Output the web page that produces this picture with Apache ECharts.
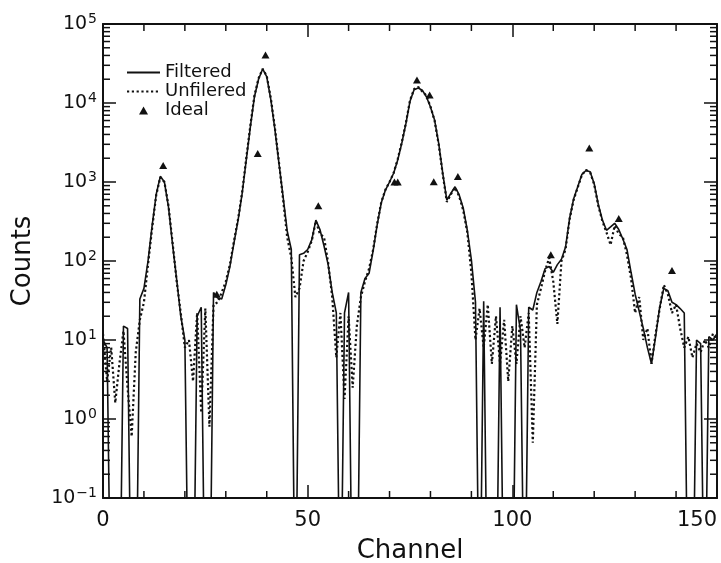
<!DOCTYPE html>
<html>
<head>
<meta charset="utf-8">
<script src="https://cdn.jsdelivr.net/npm/echarts@6/dist/echarts.min.js"></script>
<style>
  html, body { margin: 0; padding: 0; background: #fff; }
  #chart { width: 721px; height: 563px; }
</style>
</head>
<body>
<div id="chart"></div>
<script>
// Spectrum counts per channel (channel = array index, 0..150). 0 = no counts.
const filtered = [
  10, 8, 0, 0, 0, 15, 14, 0, 0, 33,
  45, 100, 280, 700, 1180, 1000, 480, 160, 58, 20,
  10, 0, 0, 20, 26, 0, 0, 40, 34, 33,
  50, 85, 170, 330, 720, 1900, 5000, 12000, 20000, 27000,
  21500, 11000, 4600, 1700, 650, 240, 140, 0, 120, 125,
  140, 185, 330, 250, 155, 90, 40, 22, 0, 22,
  40, 0, 0, 40, 60, 70, 135, 290, 550, 790,
  1000, 1290, 1900, 3100, 5500, 10500, 14700, 15500, 14500, 12000,
  8900, 6100, 3100, 1290, 590, 720, 870, 690, 470, 245,
  103, 30, 0, 31, 0, 0, 0, 26, 0, 0,
  0, 28, 13, 0, 26, 24, 40, 55, 80, 85,
  72, 90, 105, 150, 350, 620, 880, 1250, 1400, 1350,
  950, 520, 330, 245, 270, 300, 250, 190, 140, 72,
  38, 23, 14, 8, 5, 11, 26, 45, 42, 30,
  28, 25, 22, 0, 0, 10, 9, 0, 11, 10,
  12
];

const unfiltered = [
  12, 3, 8, 1.6, 5, 13, 2.5, 0.6, 7, 18,
  30, 90, 260, 680, 1150, 1000, 500, 170, 55, 22,
  8, 10, 3, 22, 1.2, 25, 0.8, 28, 30, 40,
  55, 90, 180, 340, 750, 2000, 5200, 12500, 20500, 27000,
  22000, 11500, 4800, 1750, 600, 200, 110, 35, 45, 100,
  130, 180, 320, 220, 200, 95, 35, 6, 22, 1.8,
  20, 2.5, 15, 35, 55, 80, 140, 300, 560, 800,
  1000, 1300, 1950, 3200, 5600, 10800, 15000, 16000, 14000, 12500,
  9000, 6000, 3000, 1250, 560, 700, 850, 660, 440, 230,
  70, 10, 25, 8, 28, 5, 20, 5, 18, 3,
  15, 5, 20, 8, 22, 0.5, 28, 45, 75, 110,
  55, 16, 100, 140, 340, 600, 860, 1230, 1420, 1330,
  930, 500, 320, 230, 160, 280, 220, 200, 120, 60,
  22, 35, 10, 14, 5, 12, 25, 50, 38, 22,
  28, 14, 8, 11, 6, 9, 7, 10, 8, 12,
  10
];

// Ideal line positions and intensities
const idealChannel = [14.7, 27.8, 37.8, 39.7, 52.6, 71.2, 72.0, 76.7, 79.8, 80.8, 86.7, 109.4, 118.8, 126.0, 139.0];
const idealCounts  = [1620, 38, 2300, 40500, 500, 1000, 1000, 19600, 12600, 1010, 1170, 120, 2700, 345, 76];

const xTickValues = [0, 50, 100, 150];
const xMinorStep = 10;
const yDecades = [-1, 0, 1, 2, 3, 4, 5];

// Empty channels sit far below the axis floor so their lines fall off the frame.
const LOG_FLOOR = 1e-3;
const toPairs = arr => arr.map((v, i) => [i, v > 0 ? v : LOG_FLOOR]);

const INK = '#111';
const FONT = 'DejaVu Sans';
const X_MIN = xTickValues[0], X_MAX = xTickValues[xTickValues.length - 1];
const Y_MIN = Math.pow(10, yDecades[0]), Y_MAX = Math.pow(10, yDecades[yDecades.length - 1]);
const MAJOR_LEN = 13, MINOR_LEN = 7, TICK_W = 1.5;

// Log minor ticks (2..9 per decade) on both vertical frame edges
const yMinor = [];
yDecades.slice(0, -1).forEach(e => {
  for (let m = 2; m <= 9; m++) yMinor.push(m * Math.pow(10, e));
});
// Linear minor ticks between the labelled channels, on both horizontal edges
const xMinor = [];
for (let c = X_MIN + xMinorStep; c < X_MAX; c += xMinorStep) {
  if (xTickValues.indexOf(c) < 0) xMinor.push(c);
}

const tickSeries = (data, size, offset) => ({
  type: 'scatter', silent: true, clip: false, z: 6,
  symbol: 'rect', symbolSize: size, symbolOffset: offset,
  itemStyle: { color: INK, opacity: 1 },
  data: data
});

const expLabel = v => {
  const e = Math.round(Math.log10(v));
  return '{m|10}{e|' + (e < 0 ? '\u2212' + (-e) : e) + '}';
};

const baseX = {
  type: 'value', min: X_MIN, max: X_MAX, interval: 50,
  axisLine: { show: true, onZero: false, lineStyle: { color: INK, width: 2 } },
  axisTick: { show: true, inside: true, length: MAJOR_LEN, lineStyle: { color: INK, width: TICK_W } },
  minorTick: { show: false },
  splitLine: { show: false }, minorSplitLine: { show: false }
};
const baseY = {
  type: 'log', logBase: 10, min: Y_MIN, max: Y_MAX, splitNumber: 6,
  axisLine: { show: true, onZero: false, lineStyle: { color: INK, width: 2 } },
  axisTick: { show: true, inside: true, length: MAJOR_LEN, lineStyle: { color: INK, width: TICK_W } },
  splitLine: { show: false }
};

const chart = echarts.init(document.getElementById('chart'), null, { renderer: 'canvas' });
chart.setOption({
  animation: false,
  backgroundColor: '#fff',
  grid: { left: 103, right: 4, top: 24, bottom: 65, containLabel: false, outerBoundsMode: 'none' },
  xAxis: [
    Object.assign({}, baseX, {
      position: 'bottom',
      name: 'Channel', nameLocation: 'middle', nameGap: 40,
      nameTextStyle: { fontFamily: FONT, fontSize: 26, color: INK },
      axisLabel: { fontFamily: FONT, fontSize: 21, color: INK, margin: 12, alignMaxLabel: 'right' }
    }),
    Object.assign({}, baseX, { position: 'top', axisLabel: { show: false } })
  ],
  yAxis: [
    Object.assign({}, baseY, {
      position: 'left',
      name: 'Counts', nameLocation: 'middle', nameGap: 67, nameRotate: 90,
      nameTextStyle: { fontFamily: FONT, fontSize: 26, color: INK },
      axisLabel: {
        margin: 6, formatter: expLabel,
        rich: {
          m: { fontFamily: FONT, fontSize: 19, color: INK },
          e: { fontFamily: FONT, fontSize: 14, color: INK, padding: [0, 0, 10, 1] }
        }
      }
    }),
    Object.assign({}, baseY, { position: 'right', axisLabel: { show: false } })
  ],
  legend: [
    {
      orient: 'vertical', left: 126, top: 63, padding: 0, itemGap: 0,
      itemWidth: 33, itemHeight: 12, selectedMode: false,
      itemStyle: { color: 'rgba(0,0,0,0)', borderWidth: 0, opacity: 0 },
      textStyle: { fontFamily: FONT, fontSize: 18, color: INK, lineHeight: 19 },
      data: ['Filtered', 'Unfilered']
    },
    {
      orient: 'vertical', left: 139, top: 101, padding: 0,
      itemWidth: 9, itemHeight: 8, selectedMode: false,
      textStyle: { fontFamily: FONT, fontSize: 18, color: INK, lineHeight: 19, padding: [0, 0, 0, 12] },
      data: ['Ideal']
    }
  ],
  series: [
    {
      name: 'Unfilered', type: 'line', data: toPairs(unfiltered),
      symbol: 'none', clip: true, z: 2,
      lineStyle: { color: INK, width: 2.2, type: [2.2, 2.6] },
      itemStyle: { color: INK }
    },
    {
      name: 'Filtered', type: 'line', data: toPairs(filtered),
      symbol: 'none', clip: true, z: 3,
      lineStyle: { color: INK, width: 1.6, type: 'solid' },
      itemStyle: { color: INK }
    },
    {
      name: 'Ideal', type: 'scatter',
      data: idealChannel.map((c, i) => [c, idealCounts[i]]),
      symbol: 'triangle', symbolSize: [8, 7], z: 4,
      itemStyle: { color: INK, opacity: 1 }
    },
    tickSeries(yMinor.map(v => [X_MIN, v]), [MINOR_LEN, TICK_W], [MINOR_LEN / 2, 0]),
    tickSeries(yMinor.map(v => [X_MAX, v]), [MINOR_LEN, TICK_W], [-MINOR_LEN / 2, 0]),
    tickSeries(xMinor.map(c => [c, Y_MIN]), [TICK_W, MINOR_LEN], [0, -MINOR_LEN / 2]),
    tickSeries(xMinor.map(c => [c, Y_MAX]), [TICK_W, MINOR_LEN], [0, MINOR_LEN / 2])
  ]
});
</script>
</body>
</html>
